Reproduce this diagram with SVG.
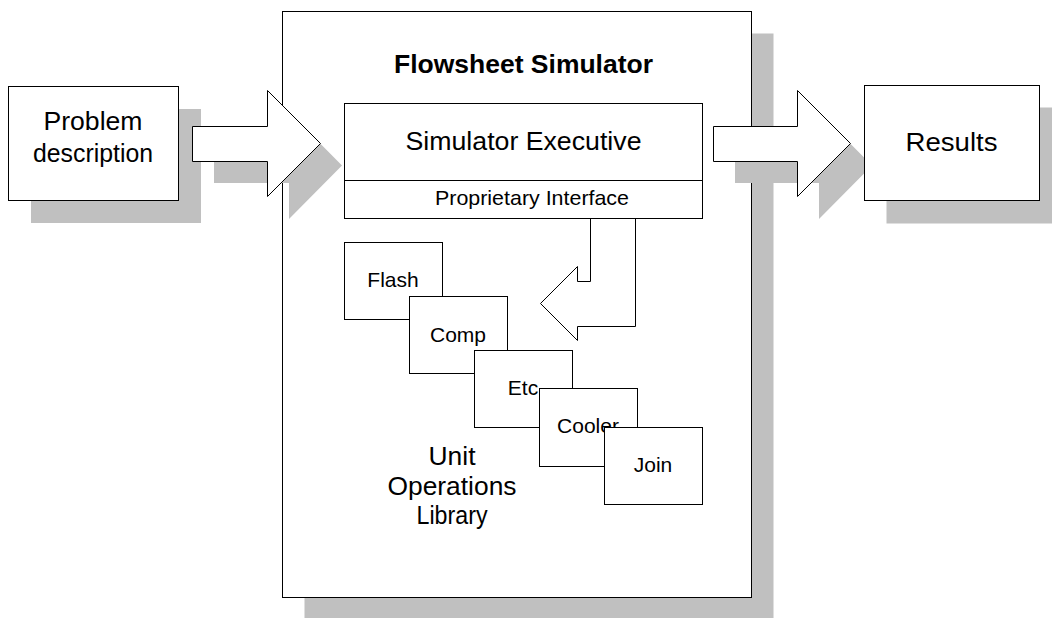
<svg xmlns="http://www.w3.org/2000/svg" width="1052" height="618" viewBox="0 0 1052 618">
  <style>
    .shadow { fill: #c0c0c0; stroke: none; }
    .box { fill: #ffffff; stroke: #000000; stroke-width: 1; }
    .arrow { fill: #ffffff; stroke: #000000; stroke-width: 1; stroke-linejoin: miter; }
    text { font-family: "Liberation Sans", Arial, sans-serif; fill: #000000; text-anchor: middle; }
    .big { font-size: 25px; }
    .small { font-size: 21px; }
    .title { font-size: 25px; font-weight: bold; }
  </style>
  <rect x="0" y="0" width="1052" height="618" fill="#ffffff"/>

  <!-- Flowsheet simulator container -->
  <g id="simulator">
    <rect class="shadow" x="304.5" y="33.5" width="469" height="586"/>
    <rect class="box" x="282.5" y="11.5" width="469" height="586"/>
    <text class="title" x="523.5" y="73" textLength="259" lengthAdjust="spacingAndGlyphs">Flowsheet Simulator</text>
  </g>

  <!-- Problem description input -->
  <g id="problem">
    <rect class="shadow" x="31" y="109" width="170" height="114"/>
    <rect class="box" x="8.5" y="86.5" width="170" height="114"/>
    <text class="big" x="93" y="130" textLength="99" lengthAdjust="spacingAndGlyphs">Problem</text>
    <text class="big" x="93" y="162" textLength="120" lengthAdjust="spacingAndGlyphs">description</text>
  </g>

  <!-- Block arrows -->
  <g id="connectors">
    <polygon class="shadow" points="214,148 289,148 289,112 342,165.5 289,219 289,183 214,183"/>
    <polygon class="arrow" points="192.5,126.5 267.5,126.5 267.5,90.5 320.5,143.5 267.5,196.5 267.5,161.5 192.5,161.5"/>
    <polygon class="shadow" points="735,148 819,148 819,112 872,165.5 819,219 819,183 735,183"/>
    <polygon class="arrow" points="713.5,126.5 797.5,126.5 797.5,90.5 850.5,143.5 797.5,196.5 797.5,161.5 713.5,161.5"/>
    <polygon class="arrow" points="590.5,218.5 590.5,281.5 577.5,281.5 577.5,266.5 540.5,303.5 577.5,340.5 577.5,326.5 635.5,326.5 635.5,218.5"/>
  </g>

  <!-- Results output -->
  <g id="results">
    <rect class="shadow" x="886.5" y="107.5" width="175" height="116"/>
    <rect class="box" x="864.5" y="85.5" width="175" height="115"/>
    <text class="big" x="951.5" y="151" textLength="92" lengthAdjust="spacingAndGlyphs">Results</text>
  </g>

  <!-- Simulator executive with its interface strip -->
  <g id="executive">
    <rect class="box" x="344.5" y="103.5" width="358" height="115"/>
    <line x1="344.5" y1="180.5" x2="702.5" y2="180.5" stroke="#000000" stroke-width="1"/>
    <text class="big" x="523.5" y="150" textLength="236" lengthAdjust="spacingAndGlyphs">Simulator Executive</text>
    <text class="small" x="532" y="205" textLength="194" lengthAdjust="spacingAndGlyphs">Proprietary Interface</text>
  </g>

  <!-- Unit operations library stack -->
  <g id="flash">
    <rect class="box" x="344.5" y="242.5" width="98" height="77"/>
    <text class="small" x="393" y="287">Flash</text>
  </g>
  <g id="comp">
    <rect class="box" x="409.5" y="296.5" width="98" height="77"/>
    <text class="small" x="458" y="342">Comp</text>
  </g>
  <g id="etc">
    <rect class="box" x="474.5" y="350.5" width="98" height="77"/>
    <text class="small" x="523" y="395">Etc</text>
  </g>
  <g id="cooler">
    <rect class="box" x="539.5" y="388.5" width="98" height="78"/>
    <text class="small" x="588" y="433">Cooler</text>
  </g>
  <g id="join">
    <rect class="box" x="604.5" y="427.5" width="98" height="77"/>
    <text class="small" x="653" y="472">Join</text>
  </g>

  <g id="library-label">
    <text class="big" x="452" y="465" textLength="47" lengthAdjust="spacingAndGlyphs">Unit</text>
    <text class="big" x="452" y="495" textLength="129" lengthAdjust="spacingAndGlyphs">Operations</text>
    <text class="big" x="452" y="524" textLength="71" lengthAdjust="spacingAndGlyphs">Library</text>
  </g>
</svg>
